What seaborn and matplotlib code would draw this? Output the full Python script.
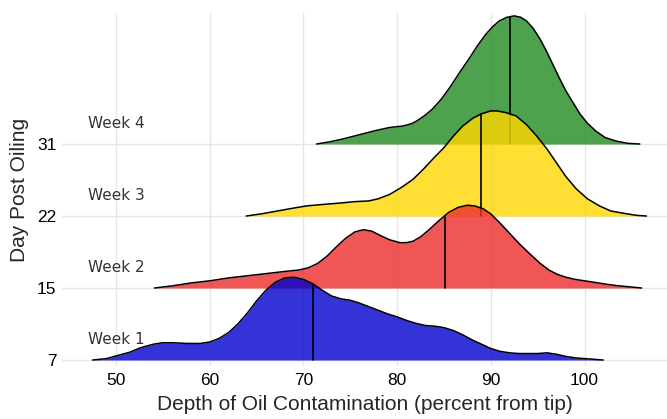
import numpy as np
import matplotlib
matplotlib.use("Agg")
import matplotlib.pyplot as plt
import seaborn as sns

# ridge labels (bottom to top)
weeks = ["Week 1", "Week 2", "Week 3", "Week 4"]
days = ["7", "15", "22", "31"]
colors = ["#0000CD", "#EE2C2C", "#FFD700", "#228B22"]

# density curves (x = depth %, h = ridge height)
wk1_x = [47.5, 49, 50.1, 51.5, 52.6, 54, 55, 56, 57.6, 59, 60, 61, 62, 63, 64, 65,
         66, 67, 68, 69, 70, 71, 72, 73, 74, 75, 76, 77, 78, 79, 80, 81, 82, 83,
         84, 85, 86, 87, 88, 89, 90, 91, 92, 93, 94, 95, 96, 97, 98, 99, 100, 102]
wk1_h = [0, 0.02, 0.06, 0.11, 0.17, 0.22, 0.24, 0.24, 0.23, 0.23, 0.25, 0.30,
         0.38, 0.50, 0.65, 0.82, 0.97, 1.08, 1.14, 1.15, 1.12, 1.06, 0.97, 0.89,
         0.85, 0.83, 0.79, 0.74, 0.69, 0.64, 0.60, 0.55, 0.51, 0.48, 0.47, 0.45,
         0.41, 0.35, 0.28, 0.22, 0.16, 0.12, 0.10, 0.09, 0.09, 0.09, 0.10, 0.08,
         0.05, 0.03, 0.02, 0]

wk2_x = [54.1, 56, 58, 60, 62, 64, 66, 68, 69.5, 70.5, 71.5, 72.5, 73.5, 74.5,
         75.5, 76.4, 77.3, 78.2, 79.2, 80.3, 81, 81.7, 82.5, 83.5, 84.5, 85.5,
         86.5, 87.5, 88.3, 89.2, 90, 91, 92, 93, 94.2, 95.2, 96.2, 97.1, 98, 99,
         100, 101.5, 103, 104.5, 106.1]
wk2_h = [0, 0.03, 0.07, 0.10, 0.14, 0.17, 0.20, 0.23, 0.25, 0.28, 0.34, 0.44,
         0.57, 0.69, 0.78, 0.81, 0.79, 0.73, 0.67, 0.63, 0.63, 0.65, 0.71, 0.82,
         0.94, 1.05, 1.12, 1.15, 1.14, 1.10, 1.03, 0.90, 0.76, 0.62, 0.47, 0.35,
         0.25, 0.19, 0.15, 0.12, 0.10, 0.07, 0.04, 0.02, 0]

wk3_x = [63.9, 65.5, 66.8, 68.5, 70.3, 72, 73.9, 75.5, 77, 78, 79.2, 80.5, 81.7,
         82.8, 83.8, 85, 86, 87, 88.1, 89, 90, 90.6, 91.5, 92.7, 93.8, 94.9, 96,
         97, 98, 99.1, 100.3, 101.6, 102.8, 104.1, 105.5, 106.6]
wk3_h = [0, 0.03, 0.06, 0.10, 0.14, 0.16, 0.18, 0.20, 0.21, 0.24, 0.30, 0.40,
         0.51, 0.65, 0.79, 0.95, 1.11, 1.25, 1.36, 1.42, 1.46, 1.46, 1.44, 1.39,
         1.27, 1.11, 0.93, 0.74, 0.55, 0.38, 0.24, 0.14, 0.07, 0.04, 0.01, 0]

wk4_x = [71.4, 72.8, 74.2, 76, 77.8, 79.2, 80.6, 81.5, 82.1, 83, 83.8, 84.7, 85.6,
         86.6, 87.7, 88.6, 89.5, 90.2, 90.9, 91.7, 92.5, 93.2, 93.8, 94.5, 95.2,
         95.9, 96.6, 97.3, 98.0, 98.8, 99.5, 100.3, 101.2, 102.2, 103.4, 104.6,
         105.9]
wk4_h = [0, 0.03, 0.07, 0.13, 0.19, 0.23, 0.25, 0.28, 0.32, 0.40, 0.49, 0.62,
         0.78, 0.98, 1.19, 1.37, 1.53, 1.63, 1.71, 1.76, 1.78, 1.76, 1.71, 1.61,
         1.47, 1.30, 1.11, 0.92, 0.74, 0.57, 0.42, 0.29, 0.18, 0.09, 0.04, 0.01, 0]

medians = [71.0, 85.1, 89.0, 92.0]

curves = [(wk1_x, wk1_h), (wk2_x, wk2_h), (wk3_x, wk3_h), (wk4_x, wk4_h)]

sns.set_style("whitegrid")
plt.rcParams['font.family'] = ['Liberation Sans', 'DejaVu Sans']

fig = plt.figure(figsize=(6.67, 4.19), dpi=100)
ax = fig.add_axes([62 / 667, 53 / 419, 605 / 667, 353 / 419])

for i, (xs, hs) in enumerate(curves):
    xs = np.array(xs)
    top = i + np.array(hs)
    z = 10 - 2 * i
    ax.fill_between(xs, i, top, color=colors[i], alpha=0.8, lw=0, zorder=z)
    sns.lineplot(x=xs, y=top, ax=ax, color="black", lw=1.1, zorder=z + 0.5,
                 sort=False, estimator=None)
    mh = np.interp(medians[i], xs, top)
    ax.plot([medians[i], medians[i]], [i, mh], color="black", lw=1.2, zorder=z + 0.5)
    ax.text(47.0, i + 0.28, weeks[i], ha="left", va="center", fontsize=11,
            color="#333333", family="DejaVu Sans", zorder=20)

ax.set_xlim(44.24, 108.8)
ax.set_ylim(-0.083, 4.82)
ax.set_xticks([50, 60, 70, 80, 90, 100])
ax.set_yticks([0, 1, 2, 3])
ax.set_yticklabels(days)
ax.tick_params(axis="both", length=0, labelsize=12.5, colors="black")
ax.tick_params(axis="y", pad=4)
ax.tick_params(axis="x", pad=5)
ax.grid(True, color="#e6e6e6", lw=1)
ax.set_axisbelow(True)
for s in ax.spines.values():
    s.set_visible(False)

ax.set_xlabel("Depth of Oil Contamination (percent from tip)", fontsize=15, labelpad=5)
ax.set_ylabel("Day Post Oiling", fontsize=15, labelpad=6)

fig.savefig("out.png", dpi=100)
